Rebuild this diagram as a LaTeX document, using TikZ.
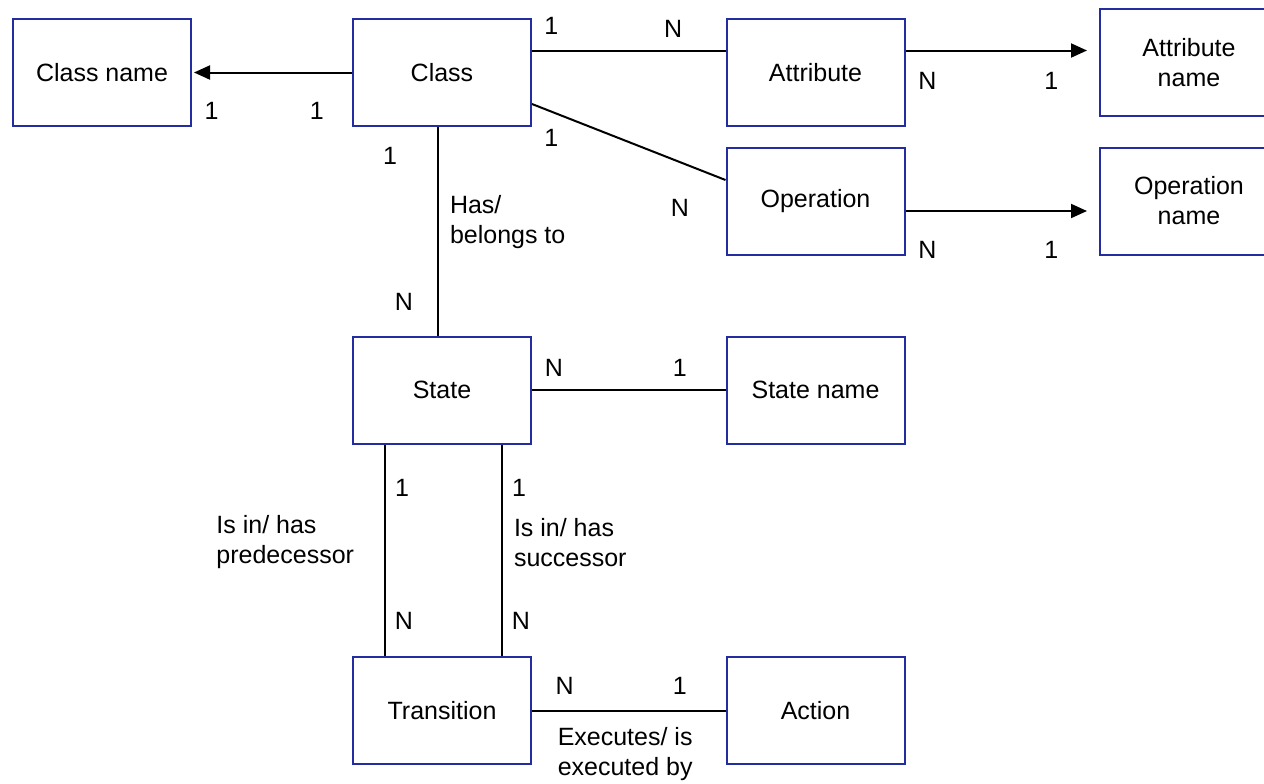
\documentclass[tikz,border=0pt]{standalone}
\usepackage{fontspec}
\setmainfont{Liberation Sans}
\usetikzlibrary{arrows.meta}
\definecolor{boxblue}{RGB}{35, 45, 160}
\definecolor{linkblack}{RGB}{0, 0, 0}

\begin{document}
\begin{tikzpicture}[
        x=0.5pt, y=-0.5pt,
        every node/.style={font=\fontsize{12.5}{15}\selectfont, text=linkblack},
        entity/.style={rectangle, draw=boxblue, line width=1pt, minimum width=89pt, minimum height=53.5pt, fill=white, align=center},
        link/.style={line width=1pt, color=linkblack},
        arrowlink/.style={link, -{Triangle[length=8pt, width=7pt]}},
        card/.style={inner sep=0pt},
        note/.style={inner sep=0pt, align=left, anchor=west}
    ]
    \path[use as bounding box, fill=white] (0, 0) rectangle (1264, 783);

    % Entities
    \node[entity] (classname) at (102, 72.5) {Class name};
    \node[entity] (class) at (442, 72.5) {Class};
    \node[entity] (attribute) at (815.5, 72.5) {Attribute};
    \node[entity] (attrname) at (1189, 62.5) {Attribute\\ name};
    \node[entity] (operation) at (815.5, 201) {Operation};
    \node[entity] (opname) at (1189, 201) {Operation\\ name};
    \node[entity] (state) at (442, 390) {State};
    \node[entity] (statename) at (815.5, 390) {State name};
    \node[entity] (transition) at (442, 710.5) {Transition};
    \node[entity] (action) at (815.5, 710.5) {Action};

    % Relations with cardinalities
    \draw[arrowlink, shorten >=1pt] (class) -- node[card, pos=0.22, yshift=-19pt] {1} node[card, pos=0.877, yshift=-19pt] {1} (classname);
    \draw[link] ([yshift=11pt]class.east) -- node[card, pos=0.1, yshift=12.5pt] {1} node[card, pos=0.73, yshift=11pt] {N} ([yshift=11pt]attribute.west);
    \draw[link] ([yshift=-15.75pt]class.east) -- node[card, pos=0.1, yshift=-13pt] {1} node[card, pos=0.764, yshift=-23pt] {N} ([yshift=10.5pt]operation.west);
    \draw[link] ([xshift=-2pt]class.south) -- node[card, pos=0.137, xshift=-24pt] {1} node[card, pos=0.839, xshift=-17pt] {N} node[note, pos=0.455, xshift=5.5pt] {Has/\\ belongs to} ([xshift=-2pt]state.north);
    \draw[arrowlink, shorten >=6pt] ([yshift=11pt]attribute.east) -- node[card, pos=0.113, yshift=-15pt] {N} node[card, pos=0.754, yshift=-15pt] {1} ([yshift=6pt]attrname.west);
    \draw[arrowlink, shorten >=6pt] ([yshift=-5pt]operation.east) -- node[card, pos=0.113, yshift=-19.5pt] {N} node[card, pos=0.754, yshift=-19.5pt] {1} ([yshift=-5pt]opname.west);
    \draw[link] (state) -- node[card, pos=0.113, yshift=11pt] {N} node[card, pos=0.764, yshift=11pt] {1} (statename);

    % Transitions between states
    \draw[link] ([xshift=-28.5pt]state.south) -- node[card, pos=0.206, xshift=8.5pt] {1} node[card, pos=0.832, xshift=9.5pt] {N} node[note, anchor=east, pos=0.462, xshift=-15pt] {Is in/ has\\ predecessor} ([xshift=-28.5pt]transition.north);
    \draw[link] ([xshift=30pt]state.south) -- node[card, pos=0.206, xshift=8.5pt] {1} node[card, pos=0.832, xshift=9.5pt] {N} node[note, pos=0.462, xshift=5.5pt] {Is in/ has\\ successor} ([xshift=30pt]transition.north);
    \draw[link] (transition) -- node[card, pos=0.169, yshift=12.5pt] {N} node[card, pos=0.764, yshift=12.5pt] {1} node[note, pos=0.128, yshift=-22pt] {Executes/ is\\ executed by} (action);

\end{tikzpicture}
\end{document}
